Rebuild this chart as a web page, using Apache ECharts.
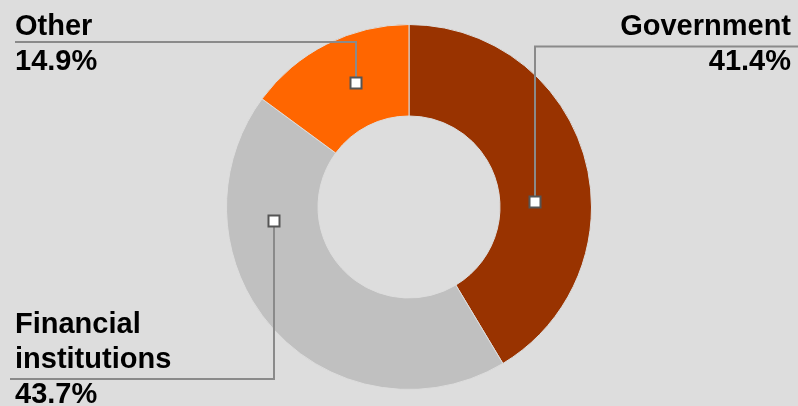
<!DOCTYPE html>
<html>
<head>
<meta charset="utf-8">
<script src="https://cdn.jsdelivr.net/npm/echarts@6/dist/echarts.min.js"></script>
<style>
  html, body { margin: 0; padding: 0; background: #dddddd; }
  #chart { width: 798px; height: 406px; }
</style>
</head>
<body>
<div id="chart"></div>
<script>
var categories = ["Government", "Financial institutions", "Other"];
var shares = [41.4, 43.7, 14.9];
var colors = ["#993300", "#c0c0c0", "#ff6600"];

// donut geometry (px)
var cx = 409, cy = 207, rIn = 91, rOut = 182.5;

// where each label sits and where its connector runs
var labelPlace = [
  { x: 791, y: 44, align: "right", lineY: 46.5, lineEnd: 798, markFrac: 0.588, markR: 126 },
  { x: 15, y: 360, align: "left", lineY: 379, lineEnd: 10, markFrac: 0.732, markR: 136 },
  { x: 15, y: 44, align: "left", lineY: 42, lineEnd: 15, markFrac: 0.569, markR: 135 }
];

// marker point inside each slice, from the slice's angles
function markerPoint(i) {
  var total = shares.reduce(function (a, b) { return a + b; }, 0);
  var start = 0;
  for (var k = 0; k < i; k++) start += shares[k] / total * 360;
  var span = shares[i] / total * 360;
  var a = (start + labelPlace[i].markFrac * span) * Math.PI / 180;
  var r = labelPlace[i].markR;
  return [Math.round(cx + r * Math.sin(a)), Math.round(cy - r * Math.cos(a))];
}

var myChart = echarts.init(document.getElementById("chart"));

var connectors = [];
categories.forEach(function (c, i) {
  var p = markerPoint(i);
  var lp = labelPlace[i];
  connectors.push({
    type: "polyline",
    z: 90,
    shape: { points: [[p[0], p[1]], [p[0], lp.lineY], [lp.lineEnd, lp.lineY]] },
    style: { stroke: "#8a8a8a", lineWidth: 2, fill: null }
  });
  connectors.push({
    type: "rect",
    z: 100,
    shape: { x: p[0] - 5.5, y: p[1] - 5.5, width: 11, height: 11 },
    style: { fill: "#ffffff", stroke: "#555555", lineWidth: 2 }
  });
});

myChart.setOption({
  backgroundColor: "#dddddd",
  animation: false,
  textStyle: { fontFamily: "Liberation Sans, Arial, sans-serif" },
  graphic: connectors,
  series: [
    {
      type: "pie",
      center: [cx, cy],
      radius: [rIn, rOut],
      startAngle: 90,
      clockwise: true,
      silent: true,
      itemStyle: { borderColor: "#dddddd", borderWidth: 1 },
      label: {
        show: true,
        color: "#000000",
        fontSize: 29,
        fontWeight: "bold",
        lineHeight: 35,
        overflow: "none",
        formatter: function (p) {
          var name = p.name.length > 12 ? p.name.replace(" ", "\n") : p.name;
          return name + "\n" + p.value.toFixed(1) + "%";
        }
      },
      labelLine: { show: false },
      labelLayout: function (params) {
        var lp = labelPlace[params.dataIndex];
        return {
          x: lp.x,
          y: lp.y,
          align: lp.align,
          verticalAlign: "middle"
        };
      },
      data: categories.map(function (c, i) {
        return { name: c, value: shares[i], itemStyle: { color: colors[i] } };
      })
    }
  ]
});
</script>
</body>
</html>
